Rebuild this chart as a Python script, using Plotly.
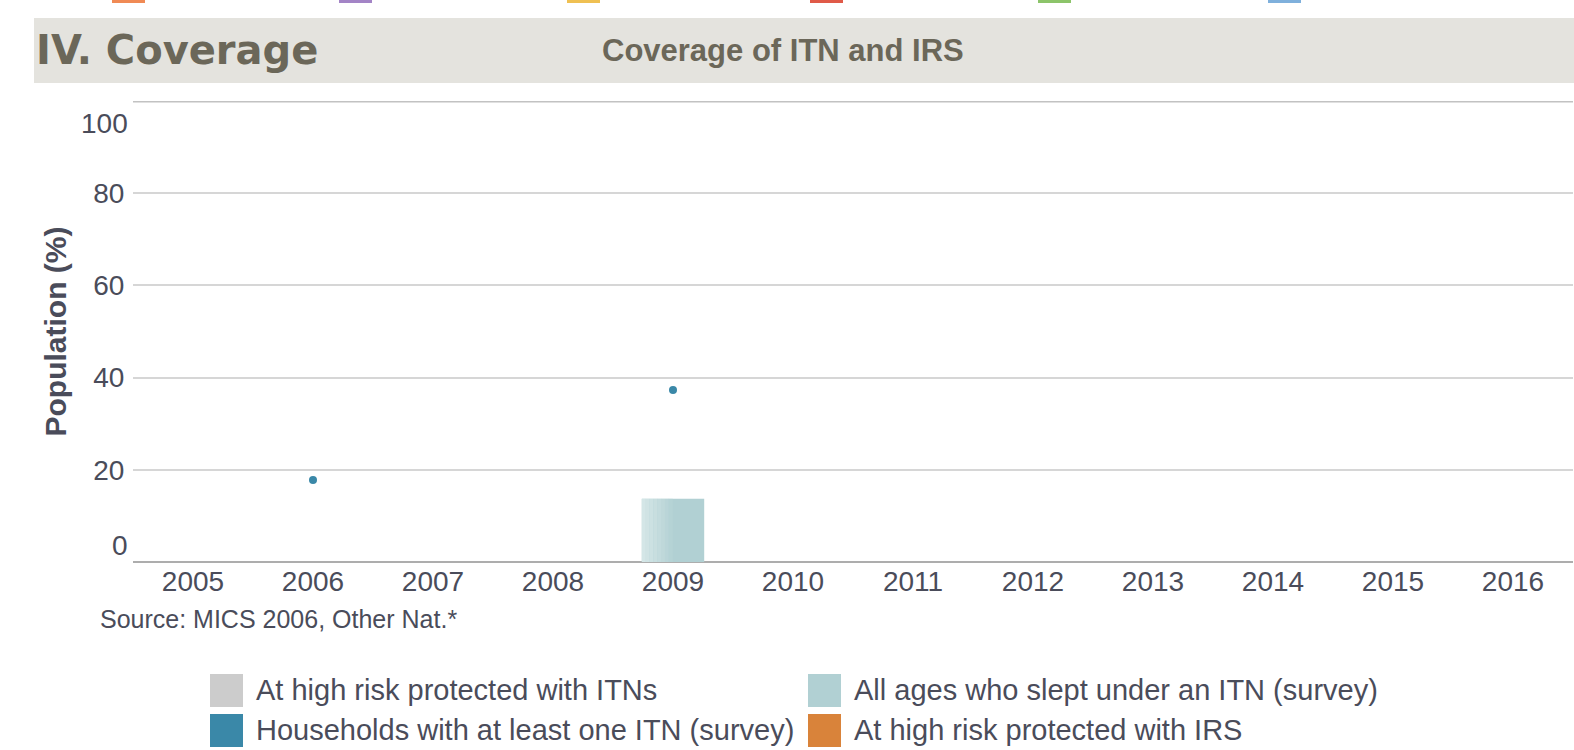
import plotly.graph_objects as go

# ---------------- data ----------------
years = ["2005", "2006", "2007", "2008", "2009", "2010", "2011", "2012", "2013", "2014", "2015", "2016"]
itn_high_risk = [None] * 12                      # At high risk protected with ITNs
all_ages_slept = [None, None, None, None, 13.7, None, None, None, None, None, None, None]
households_itn = [None, 17.8, None, None, 37.3, None, None, None, None, None, None, None]
irs_high_risk = [None] * 12                      # At high risk protected with IRS
y_ticks = [20, 40, 60, 80]
legend_labels = ["At high risk protected with ITNs", "All ages who slept under an ITN (survey)",
                 "Households with at least one ITN (survey)", "At high risk protected with IRS"]
source_text = "Source: MICS 2006, Other Nat.*"
section_title = "IV. Coverage"
chart_title = "Coverage of ITN and IRS"

# ---------------- style ----------------
W, H = 1574, 750
L, R, T, B = 133, 1, 101, 188
PW, PH = W - L - R, H - T - B
TXT = "#4a4c5a"
HEAD = "#6b6759"
FONT = "Liberation Sans, Arial, sans-serif"
C_GRAY, C_TEAL, C_BLUE, C_ORANGE = "#cccccc", "#b1d0d3", "#3a88a8", "#d9833a"
BAR_W = 0.52
# light-to-base gradient strips on the left side of the bar
strip_colors = ["#d4e6e7", "#d0e3e4", "#cce1e2", "#c8dedf", "#c3dbdd", "#bfd8da", "#bad5d8", "#b5d3d5"]
STRIP_W = 0.032


def px_x(px):
    return (px - L) / PW


def px_y(py):
    return (H - B - py) / PH


fig = go.Figure()

fig.add_trace(go.Bar(x=years, y=itn_high_risk, name=legend_labels[0], marker_color=C_GRAY,
                     width=BAR_W, showlegend=False))
fig.add_trace(go.Bar(x=years, y=all_ages_slept, name=legend_labels[1], marker_color=C_TEAL,
                     marker_line_width=0, width=BAR_W, offset=-BAR_W / 2, showlegend=False))
for i, c in enumerate(strip_colors):
    fig.add_trace(go.Bar(x=years, y=all_ages_slept, marker_color=c, marker_line_width=0,
                         width=STRIP_W + 0.002, offset=-BAR_W / 2 + i * STRIP_W,
                         showlegend=False, hoverinfo="skip"))
fig.add_trace(go.Bar(x=years, y=irs_high_risk, name=legend_labels[3], marker_color=C_ORANGE,
                     width=BAR_W, showlegend=False))
fig.add_trace(go.Scatter(x=years, y=households_itn, name=legend_labels[2], mode="markers",
                         marker=dict(color=C_BLUE, size=8), showlegend=False))

shapes = []
# header band
shapes.append(dict(type="rect", xref="paper", yref="paper", x0=px_x(34), x1=px_x(W + 5),
                   y0=px_y(83), y1=px_y(18), fillcolor="#e4e3de", line_width=0, layer="below"))
# colored remnants of a legend above
for x0, col in [(112, "#f08a55"), (339, "#a384c6"), (567, "#efc052"), (810, "#e05a48"),
                (1038, "#8cc46a"), (1268, "#7fb0dc")]:
    shapes.append(dict(type="rect", xref="paper", yref="paper", x0=px_x(x0), x1=px_x(x0 + 33),
                       y0=px_y(3), y1=px_y(-1), fillcolor=col, line_width=0))
# top line at 100
shapes.append(dict(type="line", xref="paper", yref="y", x0=0, x1=1, y0=100, y1=100,
                   line=dict(color="#c2c2c2", width=3)))

annotations = [
    dict(text=section_title, xref="paper", yref="paper", x=px_x(34), y=px_y(50), xanchor="left",
         yanchor="middle", showarrow=False, font=dict(family="DejaVu Sans", size=40, color=HEAD,
                                                      weight="bold")),
    dict(text=chart_title, xref="paper", yref="paper", x=px_x(783), y=px_y(51), xanchor="center",
         yanchor="middle", showarrow=False, font=dict(family=FONT, size=31, color=HEAD, weight="bold")),
    dict(text=source_text, xref="paper", yref="paper", x=px_x(98), y=px_y(619), xanchor="left",
         yanchor="middle", showarrow=False, font=dict(family=FONT, size=25, color=TXT)),
    dict(text="100", xref="paper", yref="y", x=0, y=100, xanchor="right", yanchor="top",
         xshift=-3, yshift=-5, showarrow=False, font=dict(family=FONT, size=28, color=TXT)),
    dict(text="0", xref="paper", yref="y", x=0, y=0, xanchor="right", yanchor="bottom",
         xshift=-3, yshift=-1, showarrow=False, font=dict(family=FONT, size=28, color=TXT)),
]

# manual legend (2 columns)
leg_items = [(legend_labels[0], C_GRAY, 210, 674), (legend_labels[1], C_TEAL, 808, 674),
             (legend_labels[2], C_BLUE, 210, 714), (legend_labels[3], C_ORANGE, 808, 714)]
for lab, col, lx, ly in leg_items:
    shapes.append(dict(type="rect", xref="paper", yref="paper", x0=px_x(lx), x1=px_x(lx + 33),
                       y0=px_y(ly + 33), y1=px_y(ly), fillcolor=col, line_width=0))
    annotations.append(dict(text=lab, xref="paper", yref="paper", x=px_x(lx + 44),
                            y=px_y(ly + 16), xanchor="left", yanchor="middle", showarrow=False,
                            font=dict(family=FONT, size=29, color=TXT)))

fig.update_layout(
    width=W, height=H,
    margin=dict(l=L, r=R, t=T, b=B, pad=0),
    paper_bgcolor="white", plot_bgcolor="white",
    barmode="overlay",
    showlegend=False,
    font=dict(family=FONT, color=TXT),
    shapes=shapes,
    annotations=annotations,
    xaxis=dict(type="category", categoryorder="array", categoryarray=years, range=[-0.5, 11.5],
               showgrid=False, showline=False, zeroline=False, ticks="",
               tickfont=dict(size=28, color=TXT, family=FONT)),
    yaxis=dict(range=[0, 100], tickvals=y_ticks, showgrid=True, gridcolor="#d6d6d6", gridwidth=2,
               zeroline=True, zerolinecolor="#adadad", zerolinewidth=2, showline=False,
               ticks="outside", ticklen=2, tickcolor="rgba(0,0,0,0)",
               tickfont=dict(size=28, color=TXT, family=FONT),
               title=dict(text="Population (%)", standoff=17,
                          font=dict(size=30, color=TXT, family=FONT, weight="bold"))),
)

fig.write_html("out.html", config={"displayModeBar": False},
               post_script="document.body.style.margin='0';document.body.style.overflow='hidden';")
